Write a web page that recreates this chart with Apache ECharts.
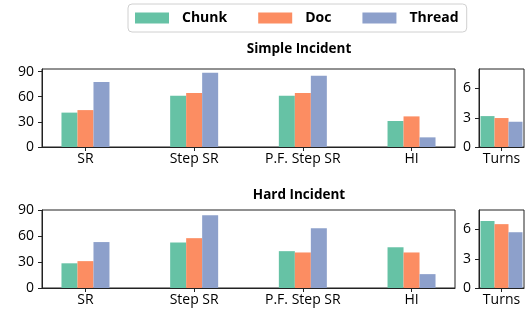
<!DOCTYPE html>
<html>
<head>
<meta charset="utf-8">
<script src="https://cdn.jsdelivr.net/npm/echarts@6/dist/echarts.min.js"></script>
<style>
  html, body { margin: 0; padding: 0; background: #fff; }
  #chart { width: 527px; height: 311px; }
</style>
</head>
<body>
<div id="chart"></div>
<script>
const methods = ['Chunk', 'Doc', 'Thread']
const colors = ['#66c2a5', '#fc8d62', '#8da0cb']
const categories = ['SR', 'Step SR', 'P.F. Step SR', 'HI']
const catTicks = [0, 1, 2, 3]

// Simple Incident
const simpleChunk = [41, 61, 61, 31]
const simpleDoc = [44, 64.5, 64.5, 36.5]
const simpleThread = [77.5, 88.5, 85, 11.5]
const simpleTurns = [3.17, 2.97, 2.59] // chunk, doc, thread

// Hard Incident
const hardChunk = [28.5, 52.5, 42.5, 47]
const hardDoc = [31, 57.5, 41, 41]
const hardThread = [53, 84, 69, 16]
const hardTurns = [6.86, 6.55, 5.72]

const font = 'Open Sans'
const ink = '#222'

const grids = [
  { left: 42, top: 69, width: 413, height: 78 },
  { left: 479, top: 69, width: 45, height: 78 },
  { left: 42, top: 210, width: 413, height: 78 },
  { left: 479, top: 210, width: 45, height: 78 }
].map(g => ({ ...g, show: true, borderColor: ink, borderWidth: 1, containLabel: false }))

function baseAxis(i) {
  return {
    gridIndex: i,
    axisLine: { show: true, onZero: false, lineStyle: { color: ink, width: 1 } },
    axisTick: { show: true, length: 4, lineStyle: { color: ink } },
    splitLine: { show: false },
    axisLabel: { color: '#000', fontFamily: font, fontSize: 14 }
  }
}

function catXAxis(i) {
  const a = baseAxis(i)
  a.type = 'value'
  a.min = -0.4
  a.max = 3.4
  a.axisTick.customValues = catTicks
  a.axisLabel.customValues = catTicks
  a.axisLabel.formatter = v => categories[v]
  a.axisLabel.margin = 5
  return a
}

function turnsXAxis(i) {
  const a = baseAxis(i)
  a.type = 'category'
  a.data = ['Turns']
  a.boundaryGap = true
  a.axisTick.alignWithLabel = true
  a.axisLabel.margin = 5
  return a
}

function yAxis(i, max, ticks) {
  const a = baseAxis(i)
  a.type = 'value'
  a.min = 0
  a.max = max
  a.axisTick.customValues = ticks
  a.axisLabel.customValues = ticks
  a.axisLabel.margin = 8
  return a
}

function catSeries(i, rows) {
  return rows.map((vals, k) => ({
    name: methods[k],
    type: 'bar',
    xAxisIndex: i,
    yAxisIndex: i,
    barWidth: 16,
    barGap: '0%',
    itemStyle: { color: colors[k] },
    data: vals.map((v, j) => [catTicks[j], v])
  }))
}

function turnsSeries(i, vals) {
  return vals.map((v, k) => ({
    name: methods[k],
    type: 'bar',
    xAxisIndex: i,
    yAxisIndex: i,
    barWidth: 14,
    barGap: '0%',
    itemStyle: { color: colors[k] },
    data: [v]
  }))
}

const chart = echarts.init(document.getElementById('chart'))
chart.setOption({
  animation: false,
  legend: {
    data: methods,
    left: 128,
    top: 4,
    itemWidth: 34,
    itemHeight: 11,
    itemGap: 31,
    icon: 'rect',
    padding: [7, 8, 7, 7],
    borderColor: '#d0d0d0',
    borderWidth: 1,
    borderRadius: 4,
    textStyle: { fontFamily: font, fontSize: 14, fontWeight: 'bold', color: '#000', padding: [0, 0, 0, 8] }
  },
  graphic: [
    { type: 'text', x: 299, y: 49, style: { text: 'Simple Incident', fontFamily: font, fontSize: 13.5, fontWeight: 'bold', fill: '#000', align: 'center', verticalAlign: 'middle' } },
    { type: 'text', x: 299, y: 195, style: { text: 'Hard Incident', fontFamily: font, fontSize: 13.5, fontWeight: 'bold', fill: '#000', align: 'center', verticalAlign: 'middle' } }
  ],
  grid: grids,
  xAxis: [catXAxis(0), turnsXAxis(1), catXAxis(2), turnsXAxis(3)],
  yAxis: [
    yAxis(0, 93, [0, 30, 60, 90]),
    yAxis(1, 8, [0, 3, 6]),
    yAxis(2, 90, [0, 30, 60, 90]),
    yAxis(3, 8, [0, 3, 6])
  ],
  series: [
    ...catSeries(0, [simpleChunk, simpleDoc, simpleThread]),
    ...turnsSeries(1, simpleTurns),
    ...catSeries(2, [hardChunk, hardDoc, hardThread]),
    ...turnsSeries(3, hardTurns)
  ]
})
</script>
</body>
</html>
